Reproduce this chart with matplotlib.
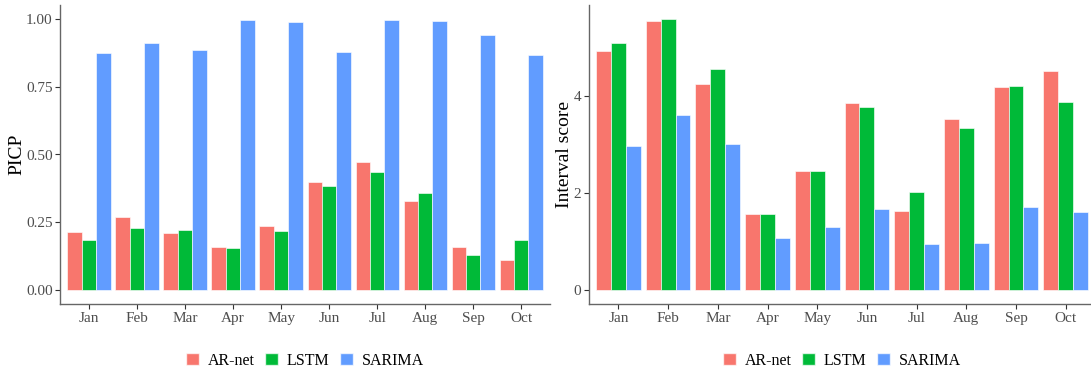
import matplotlib
matplotlib.use("Agg")
import matplotlib.pyplot as plt
import numpy as np
from matplotlib.patches import Patch

plt.rcParams['font.family'] = ['Liberation Serif', 'DejaVu Serif']

months = ['Jan', 'Feb', 'Mar', 'Apr', 'May', 'Jun', 'Jul', 'Aug', 'Sep', 'Oct']
models = ['AR-net', 'LSTM', 'SARIMA']
colors = ['#F8766D', '#00BA38', '#619CFF']

# PICP per month
picp_arnet = [0.216, 0.271, 0.210, 0.159, 0.238, 0.399, 0.472, 0.329, 0.159, 0.112]
picp_lstm = [0.187, 0.231, 0.222, 0.155, 0.220, 0.385, 0.436, 0.358, 0.131, 0.185]
picp_sarima = [0.872, 0.910, 0.886, 0.996, 0.987, 0.877, 0.994, 0.991, 0.939, 0.866]

# interval score per month
is_arnet = [4.93, 5.55, 4.26, 1.57, 2.47, 3.86, 1.64, 3.53, 4.20, 4.51]
is_lstm = [5.09, 5.60, 4.57, 1.57, 2.47, 3.77, 2.02, 3.35, 4.21, 3.88]
is_sarima = [2.98, 3.61, 3.01, 1.07, 1.30, 1.68, 0.96, 0.98, 1.71, 1.62]

W, H = 1091, 372
fig = plt.figure(figsize=(W / 100, H / 100), dpi=100)


def make_axes(x0, x1, y0=304, y1=5):
    return fig.add_axes([x0 / W, (H - y0) / H, (x1 - x0) / W, (y0 - y1) / H])


def draw_panel(ax, series, ylabel, ylim, yticks, yticklabels):
    x = np.arange(len(months))
    w = 0.3
    for i, (vals, c) in enumerate(zip(series, colors)):
        ax.bar(x + (i - 1) * w, vals, width=w, color=c,
               edgecolor=(1, 1, 1, 0.7), linewidth=0.6)
    ax.set_xlim(-0.6, len(months) - 0.4)
    ax.set_ylim(*ylim)
    ax.set_xticks(x)
    ax.set_xticklabels(months)
    ax.set_yticks(yticks)
    ax.set_yticklabels(yticklabels)
    ax.set_ylabel(ylabel, fontsize=14, labelpad=0.5)
    for s in ['top', 'right']:
        ax.spines[s].set_visible(False)
    for s in ['left', 'bottom']:
        ax.spines[s].set_color('#666666')
        ax.spines[s].set_linewidth(1.0)
    ax.tick_params(colors='#333333', labelcolor='#4D4D4D', labelsize=11,
                   length=3.5, width=0.8, pad=2)
    handles = [Patch(facecolor=c, edgecolor=(1, 1, 1, 0.7)) for c in colors]
    ax.legend(handles, models, loc='center', bbox_to_anchor=(0.5, -0.19),
              ncol=3, frameon=False, fontsize=11.5, handlelength=0.8,
              handleheight=0.8, handletextpad=0.55, columnspacing=0.65)


ax1 = make_axes(60.2, 550)
draw_panel(ax1, [picp_arnet, picp_lstm, picp_sarima], 'PICP', (-0.05, 1.05),
           [0, 0.25, 0.5, 0.75, 1.0], ['0.00', '0.25', '0.50', '0.75', '1.00'])

ax2 = make_axes(588.6, 1095.5)
draw_panel(ax2, [is_arnet, is_lstm, is_sarima], 'Interval score', (-0.28, 5.88),
           [0, 2, 4], ['0', '2', '4'])

fig.savefig('out.png', dpi=100)
